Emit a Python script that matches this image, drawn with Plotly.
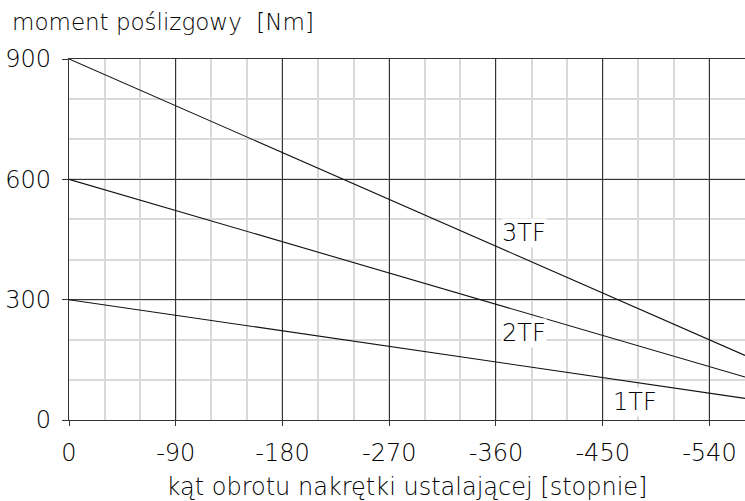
import plotly.graph_objects as go

# data
x_deg = [0, -570]
series = {
    "3TF": [900, 161],
    "2TF": [600, 107],
    "1TF": [300, 54],
}
label_pos = {
    "3TF": (-364, 467),
    "2TF": (-364, 218),
    "1TF": (-458, 46),
}
x_ticks = [0, -90, -180, -270, -360, -450, -540]
y_ticks = [0, 300, 600, 900]
y_title = "moment poślizgowy  [Nm]"
x_title = "kąt obrotu nakrętki ustalającej [stopnie]"

FONT = "DejaVu Sans"
W = 200
TXT = "#000000"

fig = go.Figure()
for name, ys in series.items():
    fig.add_trace(go.Scatter(x=x_deg, y=ys, mode="lines", name=name,
                             line=dict(color="#111111", width=1.1),
                             showlegend=False, hoverinfo="skip"))

for name, (lx, ly) in label_pos.items():
    fig.add_annotation(x=lx, y=ly, text=name, showarrow=False,
                       xanchor="left", yanchor="middle",
                       bgcolor="white", borderpad=0,
                       font=dict(family=FONT, size=24, color=TXT, weight=W))

fig.add_annotation(xref="paper", yref="paper", x=(10 - 69) / 676, y=1 + (59 - 22) / 361,
                   text=y_title, showarrow=False, xanchor="left", yanchor="middle",
                   font=dict(family=FONT, size=23, color=TXT, weight=W))

fig.update_layout(
    width=745, height=501,
    margin=dict(l=69, r=0, t=59, b=81),
    plot_bgcolor="white", paper_bgcolor="white",
    xaxis=dict(range=[0, -570], tickvals=x_ticks, ticktext=[str(v) for v in x_ticks],
               showgrid=True, gridcolor="#333333", gridwidth=1,
               showline=True, linecolor="#333333", linewidth=1.2, mirror=True,
               ticks="outside", ticklen=5, tickcolor="#333333",
               ticklabelstandoff=6,
               tickfont=dict(family=FONT, size=24, color=TXT, weight=W),
               minor=dict(dtick=30, tick0=0, showgrid=True, gridcolor="#d9d9d9", gridwidth=1.5, ticks=""),
               zeroline=False,
               title=dict(text=x_title, standoff=14,
                          font=dict(family=FONT, size=24, color=TXT, weight=W))),
    yaxis=dict(range=[0, 900], tickvals=y_ticks, ticktext=[str(v) for v in y_ticks],
               showgrid=True, gridcolor="#333333", gridwidth=1,
               showline=True, linecolor="#333333", linewidth=1.2,
               ticks="outside", ticklen=6, tickcolor="#333333",
               ticklabelstandoff=6,
               tickfont=dict(family=FONT, size=24, color=TXT, weight=W),
               minor=dict(dtick=100, tick0=0, showgrid=True, gridcolor="#d9d9d9", gridwidth=1.5, ticks=""),
               zeroline=False),
)

fig.write_html("out.html", config={"displayModeBar": False},
               post_script="document.body.style.margin='0';document.body.style.overflow='hidden';")
